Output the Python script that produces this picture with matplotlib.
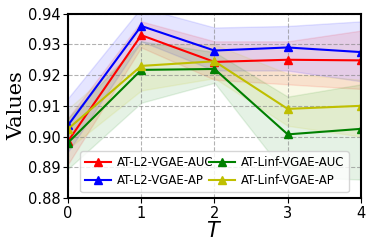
import numpy as np
import matplotlib.pyplot as plt

T = [0, 1, 2, 3, 4]

l2_auc = [0.8985, 0.9330, 0.9243, 0.9250, 0.9248]
l2_auc_lo = [0.8910, 0.9290, 0.9185, 0.9170, 0.9155]
l2_auc_hi = [0.9060, 0.9375, 0.9310, 0.9310, 0.9345]

l2_ap = [0.9037, 0.9360, 0.9280, 0.9290, 0.9275]
l2_ap_lo = [0.8950, 0.9310, 0.9215, 0.9215, 0.9180]
l2_ap_hi = [0.9125, 0.9420, 0.9355, 0.9360, 0.9375]

linf_auc = [0.8980, 0.9217, 0.9220, 0.9007, 0.9025]
linf_auc_lo = [0.8895, 0.9110, 0.9175, 0.8870, 0.8860]
linf_auc_hi = [0.9060, 0.9310, 0.9275, 0.9130, 0.9170]

linf_ap = [0.9025, 0.9230, 0.9245, 0.9090, 0.9100]
linf_ap_lo = [0.8960, 0.9150, 0.9190, 0.9035, 0.9000]
linf_ap_hi = [0.9090, 0.9300, 0.9300, 0.9205, 0.9185]

series = [
    ("AT-L2-VGAE-AUC", "r", l2_auc, l2_auc_lo, l2_auc_hi),
    ("AT-L2-VGAE-AP", "b", l2_ap, l2_ap_lo, l2_ap_hi),
    ("AT-Linf-VGAE-AUC", "g", linf_auc, linf_auc_lo, linf_auc_hi),
    ("AT-Linf-VGAE-AP", "y", linf_ap, linf_ap_lo, linf_ap_hi),
]

fig, ax = plt.subplots(figsize=(3.74, 2.49), dpi=100)
for name, c, v, lo, hi in series:
    ax.plot(T, v, color=c, marker="^", markersize=5.5, linewidth=1.5, label=name)
    ax.fill_between(T, lo, hi, color=c, alpha=0.1)

ax.set_xlim(0, 4)
ax.set_ylim(0.88, 0.94)
ax.set_xticks(T)
ax.set_yticks([0.88, 0.89, 0.90, 0.91, 0.92, 0.93, 0.94])
ax.tick_params(labelsize=10.5, pad=2)
ax.grid(True, linestyle="--", color="gray", alpha=0.6)
ax.set_xlabel("$T$", fontsize=15, family="serif", labelpad=0)
ax.set_ylabel("Values", fontsize=15, family="serif")
ax.yaxis.set_label_coords(-0.142, 0.5)
ax.legend(ncol=2, fontsize=8.5, loc="lower center", bbox_to_anchor=(0.5, 0.0),
          columnspacing=-0.4, handlelength=2.2, borderpad=0.4, labelspacing=0.45,
          handletextpad=0.5)
for s in ax.spines.values():
    s.set_linewidth(1.5)
plt.subplots_adjust(left=0.182, right=0.965, top=0.945, bottom=0.205)
fig.savefig("out.png", dpi=100)
